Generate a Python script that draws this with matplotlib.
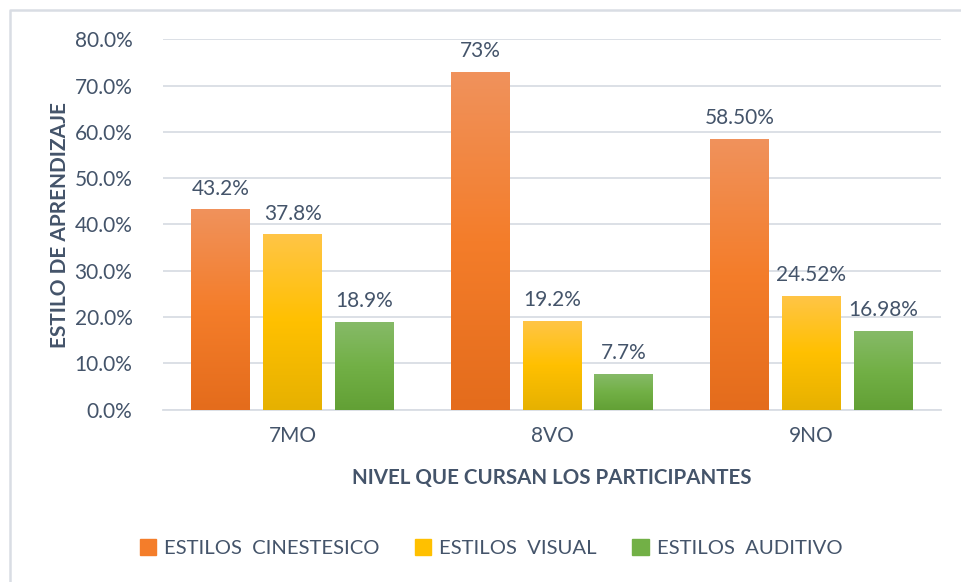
import numpy as np
import matplotlib.pyplot as plt
from matplotlib.colors import LinearSegmentedColormap
from matplotlib.lines import Line2D
from matplotlib.patches import Rectangle

plt.rcParams['font.family'] = ['Lato', 'DejaVu Sans']

# datos
niveles = ["7MO", "8VO", "9NO"]
series = ["ESTILOS  CINESTESICO", "ESTILOS  VISUAL", "ESTILOS  AUDITIVO"]
cinestesico = [0.432, 0.73, 0.585]
visual = [0.378, 0.192, 0.2452]
auditivo = [0.189, 0.077, 0.1698]
etiquetas = [
    ["43.2%", "73%", "58.50%"],
    ["37.8%", "19.2%", "24.52%"],
    ["18.9%", "7.7%", "16.98%"],
]

# gradientes (arriba, medio, abajo)
degradados = [
    ["#F0925C", "#F47D2A", "#E46C1C"],
    ["#FFC546", "#FFC000", "#E6B100"],
    ["#86BA68", "#72B046", "#62A035"],
]
texto = "#44546A"
rejilla = "#D9DDE4"

fig = plt.figure(figsize=(9.61, 5.82), dpi=100)
ax = fig.add_axes([163 / 961, 1 - 409.7 / 582, (941 - 163) / 961, (409.7 - 39.3) / 582])

x = np.arange(len(niveles))
paso = 0.277
ancho = 0.227
valores = [cinestesico, visual, auditivo]

grad = np.linspace(1, 0, 256).reshape(-1, 1)
for i, vals in enumerate(valores):
    barras = ax.bar(x + (i - 1) * paso, vals, width=ancho, color="none", zorder=3)
    cmap = LinearSegmentedColormap.from_list(f"g{i}", degradados[i][::-1])
    for b, lab in zip(barras, etiquetas[i]):
        bx, by = b.get_x(), b.get_y()
        bw, bh = b.get_width(), b.get_height()
        ax.imshow(grad, cmap=cmap, aspect="auto", extent=[bx, bx + bw, by, by + bh],
                  origin="upper", zorder=3)
        ax.annotate(lab, (bx + bw / 2, by + bh), xytext=(0, 8), textcoords="offset points",
                    ha="center", va="bottom", fontsize=15, color=texto)

ax.set_xlim(-0.5, 2.5)
ax.set_ylim(0, 0.8)
ax.set_yticks(np.arange(0, 0.81, 0.1))
ax.set_yticklabels([f"{v * 100:.1f}%" for v in np.arange(0, 0.81, 0.1)])
ax.set_xticks(x)
ax.set_xticklabels(niveles)
ax.tick_params(axis="both", length=0, labelsize=15, labelcolor=texto)
ax.tick_params(axis="y", pad=22)
ax.tick_params(axis="x", pad=12)
ax.grid(axis="y", color=rejilla, linewidth=1.3, zorder=0)
ax.set_axisbelow(True)
for s in ["top", "right", "left"]:
    ax.spines[s].set_visible(False)
ax.spines["bottom"].set_color(rejilla)
ax.spines["bottom"].set_linewidth(1.3)

# titulos de ejes
fig.text(60 / 961, 1 - 225 / 582, "ESTILO DE APRENDIZAJE", fontsize=15, fontweight="bold",
         color=texto, rotation=90, ha="center", va="center")
fig.text(552 / 961, 1 - 478 / 582, "NIVEL QUE CURSAN LOS PARTICIPANTES", fontsize=14.8,
         fontweight="bold", color=texto, ha="center", va="center")

# leyenda
manejadores = [Rectangle((0, 0), 1, 1, color=degradados[i][1]) for i in range(3)]
fig.legend(manejadores, series, loc="center", bbox_to_anchor=(491 / 961, 1 - 548 / 582),
           ncol=3, frameon=False, fontsize=14.6, labelcolor=texto, handlelength=0.8,
           handleheight=0.8, handletextpad=0.4, columnspacing=1.75)

# marco del grafico
fig.add_artist(Line2D([10 / 961, 10 / 961, 1], [0, 1 - 10 / 582, 1 - 10 / 582],
                      transform=fig.transFigure, color=rejilla, linewidth=1.8))

fig.savefig("out.png", dpi=100)
